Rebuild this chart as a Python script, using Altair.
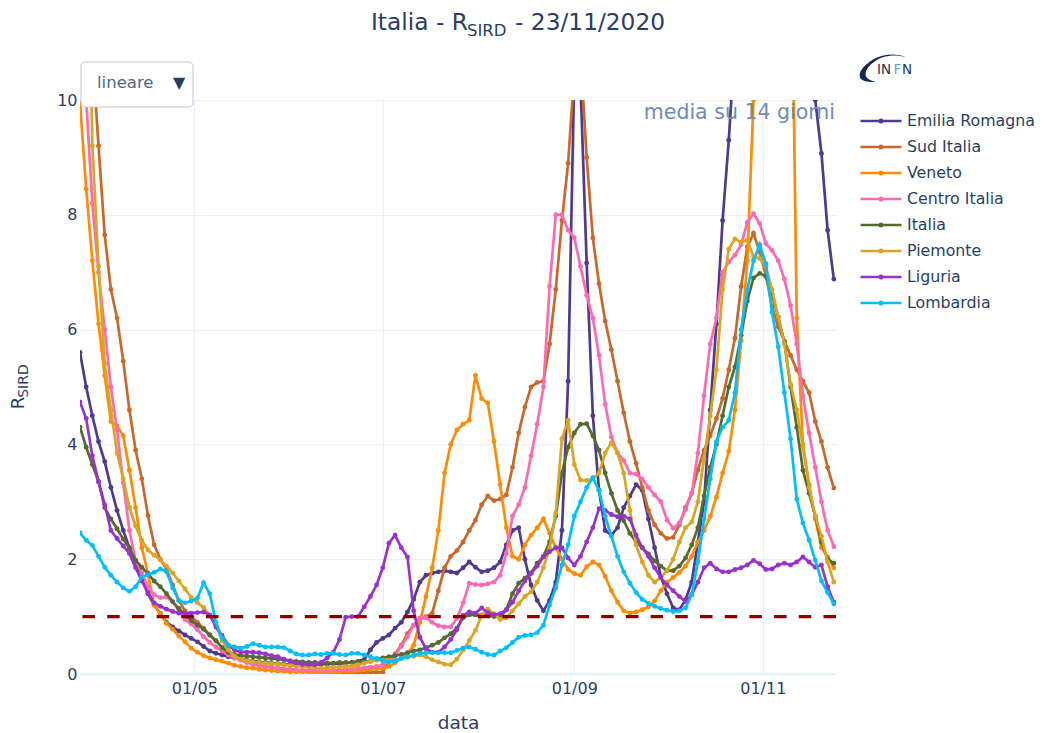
import altair as alt
import pandas as pd

alt.data_transformers.disable_max_rows()

DATES = pd.date_range("2020-03-25", "2020-11-24", freq="2D").strftime("%Y-%m-%d").tolist()

emilia = [
5.6,5.0,4.5,4.05,3.7,3.25,2.85,2.5,2.2,1.95,
1.65,1.4,1.2,1.05,0.9,0.82,0.75,0.68,0.62,0.56,
0.48,0.4,0.36,0.33,0.3,0.28,0.26,0.24,0.22,0.21,
0.2,0.19,0.18,0.17,0.17,0.16,0.16,0.16,0.16,0.17,
0.17,0.18,0.18,0.19,0.2,0.22,0.25,0.42,0.55,0.62,
0.68,0.8,0.9,1.08,1.3,1.6,1.72,1.76,1.78,1.8,
1.78,1.76,1.85,1.95,1.86,1.78,1.8,1.85,1.95,2.25,
2.5,2.55,2.0,1.55,1.28,1.1,1.28,1.6,2.5,5.1,
10.5,10.3,7.16,4.5,3.2,2.5,2.42,2.55,2.9,3.1,
3.3,3.2,2.7,2.2,1.7,1.4,1.15,1.12,1.29,1.6,
2.3,3.0,4.6,6.1,7.9,9.3,11,13,14,15,
15,15,15,15,15,15,15,14,11.5,10.0,
9.07,7.73,6.88]

sud = [
16,13.5,10.8,9.2,7.65,6.7,6.2,5.45,4.6,3.9,
3.4,2.76,2.25,2.0,1.83,1.55,1.28,1.1,1.0,0.9,
0.8,0.68,0.58,0.46,0.38,0.3,0.25,0.21,0.18,0.15,
0.13,0.12,0.1,0.09,0.08,0.07,0.06,0.05,0.04,0.04,
0.03,0.03,0.03,0.03,0.03,0.03,0.03,0.03,0.03,0.03,
0.25,0.35,0.5,0.7,0.85,0.95,1.0,1.06,1.45,1.85,
2.05,2.15,2.3,2.5,2.68,2.95,3.1,3.02,3.05,3.12,
3.6,4.2,4.65,5.0,5.08,5.1,5.75,6.7,7.9,8.9,
10.5,10.8,9.0,7.6,6.8,6.15,5.65,5.1,4.55,4.05,
3.67,3.25,2.85,2.6,2.45,2.36,2.38,2.6,2.9,3.15,
3.55,3.9,4.15,4.45,4.8,5.3,5.85,6.75,7.44,7.68,
7.35,6.95,6.4,6.05,5.8,5.55,5.3,5.1,4.9,4.4,
4.05,3.6,3.24]

veneto = [
9.95,8.45,7.2,6.1,5.2,4.4,4.32,4.15,3.55,2.9,
2.2,1.75,1.2,1.05,0.88,0.78,0.66,0.56,0.45,0.38,
0.32,0.28,0.25,0.22,0.19,0.15,0.13,0.11,0.1,0.08,
0.07,0.06,0.05,0.05,0.04,0.04,0.04,0.03,0.03,0.03,
0.03,0.03,0.04,0.05,0.05,0.06,0.07,0.08,0.09,0.1,
0.13,0.2,0.28,0.35,0.5,0.9,1.35,1.85,2.5,3.5,
4.0,4.25,4.35,4.42,5.2,4.8,4.72,4.05,3.3,2.55,
2.05,2.0,2.25,2.42,2.55,2.7,2.45,2.2,2.0,1.82,
1.75,1.72,1.87,1.95,1.9,1.7,1.45,1.25,1.1,1.06,
1.08,1.12,1.17,1.27,1.45,1.6,1.68,1.77,1.88,2.05,
2.3,2.5,2.75,3.08,3.5,3.88,4.6,5.8,7.2,10,
14,18,20,20,20,14,6.2,4.0,3.3,2.7,
2.2,2.04,1.85]

centro = [
15,10,8.2,7.0,6.0,5.0,4.25,3.33,2.5,1.98,
1.76,1.52,1.38,1.33,1.34,1.26,1.1,0.95,0.87,0.77,
0.65,0.55,0.47,0.4,0.33,0.28,0.24,0.2,0.17,0.15,
0.13,0.12,0.1,0.09,0.08,0.07,0.07,0.07,0.06,0.06,
0.06,0.07,0.07,0.08,0.09,0.1,0.11,0.12,0.13,0.16,
0.22,0.33,0.48,0.65,0.85,0.97,0.98,0.9,0.84,0.82,
0.82,0.97,1.24,1.58,1.56,1.55,1.57,1.6,1.72,2.1,
2.75,2.95,3.25,3.8,4.35,5.0,6.75,8.0,8.0,7.73,
7.6,7.1,6.6,6.2,5.55,4.7,4.13,3.85,3.72,3.5,
3.48,3.4,3.25,3.12,3.0,2.68,2.54,2.63,2.87,3.15,
3.85,4.85,5.75,6.2,7.0,7.18,7.3,7.48,7.87,8.02,
7.85,7.5,7.38,7.2,6.88,6.42,5.75,4.85,4.2,3.6,
3.0,2.5,2.22]

italia = [
4.3,3.95,3.65,3.35,2.9,2.7,2.53,2.35,2.19,1.98,
1.86,1.75,1.62,1.52,1.4,1.26,1.14,1.03,0.93,0.85,
0.78,0.68,0.58,0.46,0.38,0.34,0.32,0.31,0.3,0.29,
0.28,0.27,0.26,0.25,0.23,0.22,0.21,0.2,0.2,0.19,
0.19,0.19,0.2,0.2,0.2,0.21,0.21,0.22,0.25,0.28,
0.3,0.32,0.34,0.37,0.4,0.42,0.46,0.5,0.55,0.63,
0.7,0.8,0.98,1.03,1.03,1.03,1.02,1.0,0.99,1.12,
1.4,1.58,1.67,1.76,1.93,2.05,2.3,2.75,3.5,3.95,
4.2,4.35,4.36,4.15,3.9,3.5,3.15,2.85,2.67,2.45,
2.3,2.2,2.09,1.97,1.88,1.8,1.8,1.88,2.02,2.25,
2.55,3.1,3.6,4.0,4.5,5.0,5.35,5.9,6.5,6.9,
6.98,6.93,6.62,6.22,5.78,5.0,4.3,3.55,3.15,2.75,
2.3,2.0,1.93]

piemonte = [
18,15,9.2,7.1,5.4,4.6,3.85,3.4,2.9,2.58,
2.33,2.16,2.07,1.99,1.88,1.76,1.62,1.48,1.33,1.24,
1.16,1.02,0.85,0.58,0.42,0.31,0.26,0.23,0.21,0.2,
0.19,0.18,0.17,0.16,0.15,0.14,0.13,0.12,0.11,0.1,
0.11,0.12,0.12,0.13,0.14,0.16,0.19,0.22,0.24,0.24,
0.24,0.24,0.27,0.29,0.31,0.33,0.3,0.25,0.21,0.17,
0.16,0.26,0.42,0.58,0.76,1.02,1.13,1.05,0.95,0.98,
1.1,1.22,1.35,1.43,1.6,1.85,2.2,2.8,4.1,4.42,
3.65,3.38,3.37,3.4,3.5,3.85,4.03,3.85,3.5,2.85,
2.25,1.95,1.72,1.6,1.68,1.8,2.0,2.3,2.55,2.65,
3.0,3.75,4.5,5.3,6.7,7.4,7.58,7.52,7.56,7.27,
7.24,7.1,6.7,6.22,5.75,5.05,4.6,3.95,3.25,2.75,
2.4,1.95,1.6]

liguria = [
4.74,4.45,3.8,3.35,2.95,2.5,2.36,2.23,2.1,1.85,
1.62,1.42,1.24,1.18,1.13,1.09,1.06,1.06,1.06,1.07,
1.08,1.03,0.82,0.67,0.5,0.42,0.38,0.38,0.38,0.37,
0.35,0.32,0.3,0.26,0.22,0.19,0.17,0.17,0.16,0.2,
0.28,0.38,0.6,0.99,1.0,1.0,1.17,1.35,1.55,1.85,
2.28,2.42,2.2,2.04,1.1,0.64,0.44,0.38,0.38,0.47,
0.6,0.77,1.02,1.08,1.06,1.15,1.07,1.03,1.05,1.12,
1.25,1.45,1.62,1.75,1.88,2.04,2.13,2.2,2.2,2.02,
1.9,2.05,2.3,2.55,2.88,2.85,2.78,2.74,2.75,2.7,
2.42,2.2,2.05,1.85,1.68,1.55,1.45,1.35,1.26,1.38,
1.6,1.85,1.93,1.83,1.78,1.78,1.82,1.85,1.9,1.98,
1.92,1.82,1.83,1.9,1.93,1.9,1.95,2.04,1.95,1.86,
1.9,1.52,1.25]

lombardia = [
2.46,2.33,2.24,2.05,1.86,1.72,1.6,1.5,1.44,1.52,
1.69,1.73,1.77,1.83,1.78,1.5,1.28,1.24,1.27,1.32,
1.59,1.4,0.9,0.62,0.5,0.47,0.45,0.48,0.53,0.5,
0.47,0.47,0.47,0.46,0.4,0.35,0.33,0.33,0.35,0.34,
0.36,0.36,0.34,0.33,0.36,0.36,0.33,0.3,0.27,0.23,
0.21,0.23,0.27,0.3,0.33,0.36,0.37,0.37,0.37,0.37,
0.37,0.41,0.45,0.47,0.43,0.38,0.34,0.33,0.4,0.46,
0.55,0.64,0.67,0.68,0.72,0.85,1.2,1.5,1.9,2.25,
2.75,3.0,3.25,3.42,3.2,2.75,2.4,2.05,1.78,1.58,
1.42,1.3,1.23,1.18,1.14,1.11,1.09,1.1,1.15,1.38,
1.95,2.7,3.4,4.05,4.3,4.42,4.9,6.0,6.69,7.2,
7.48,7.15,6.3,5.7,4.9,4.1,3.05,2.63,2.33,1.98,
1.62,1.42,1.22]

NAMES = ["Emilia Romagna", "Sud Italia", "Veneto", "Centro Italia",
         "Italia", "Piemonte", "Liguria", "Lombardia"]
SERIES = [emilia, sud, veneto, centro, italia, piemonte, liguria, lombardia]
COLORS = ["#4f3a8f", "#c9682b", "#ff8c00", "#ff69b4",
          "#556b2f", "#daa520", "#9932cc", "#00bfff"]

TEXT = "#2a3f5f"
GRID = "#ebf0f8"
YTICKS = [0, 2, 4, 6, 8, 10]
XTICKS = ["2020-05-01", "2020-07-01", "2020-09-01", "2020-11-01"]
THRESHOLD = [1]


def ms(s):
    return int(pd.Timestamp(s, tz="UTC").timestamp() * 1000)


XDOM = [ms("2020-03-25"), ms("2020-11-24T17:00:00")]
x_scale = alt.Scale(type="utc", domain=XDOM)
y_scale = alt.Scale(domain=[0, 10], nice=False)
color_scale = alt.Scale(domain=NAMES, range=COLORS)

legend_symbol = ("M-2.05,0H2.05M0.13,0A0.13,0.13 0 1,1 -0.13,0"
                 "A0.13,0.13 0 1,1 0.13,0")

layers = []

# empty base carrying the axes
base_df = pd.DataFrame({"date": [DATES[0]], "v": [0]})
layers.append(
    alt.Chart(base_df).mark_point(opacity=0).encode(
        x=alt.X("date:T", scale=x_scale, title="data",
                axis=alt.Axis(values=[ms(d) for d in XTICKS], format="%d/%m",
                              domain=False, ticks=False, grid=True,
                              gridColor=GRID, gridWidth=1.2,
                              labelColor=TEXT, labelFontSize=16,
                              labelPadding=6, labelFont="DejaVu Sans",
                              titleColor=TEXT, titleFontSize=18.5,
                              titleFontWeight="normal", titleFont="DejaVu Sans",
                              titlePadding=17)),
        y=alt.Y("v:Q", scale=y_scale, title=None,
                axis=alt.Axis(values=YTICKS, format="d", domain=False, ticks=False,
                              grid=True, gridColor=GRID, gridWidth=1.2,
                              labelColor=TEXT, labelFontSize=16, labelPadding=3,
                              labelFont="DejaVu Sans")),
    )
)

# zero line
layers.append(
    alt.Chart(pd.DataFrame({"v": [0]})).mark_rule(color=GRID, strokeWidth=2.5).encode(
        y=alt.Y("v:Q", scale=y_scale))
)

for name, values in zip(NAMES, SERIES):
    assert len(values) == len(DATES), name
    df = pd.DataFrame({"date": DATES, "R": values, "regione": name})
    layers.append(
        alt.Chart(df).mark_line(
            clip=True, strokeWidth=2.7,
            point=alt.OverlayMarkDef(filled=True, size=24, clip=True, opacity=1),
        ).encode(
            x=alt.X("date:T", scale=x_scale),
            y=alt.Y("R:Q", scale=y_scale),
            color=alt.Color(
                "regione:N", scale=color_scale, sort=NAMES,
                legend=alt.Legend(
                    title=None, orient="none", legendX=789.5, legendY=9.5,
                    padding=0, symbolType=legend_symbol, symbolSize=400,
                    symbolStrokeWidth=2.4, symbolOpacity=1, rowPadding=6,
                    labelOffset=14.5, labelFontSize=15.8, labelColor=TEXT,
                    labelFont="DejaVu Sans", labelLimit=200),
            ),
        )
    )

# threshold line
layers.append(
    alt.Chart(pd.DataFrame({"v": THRESHOLD})).mark_rule(
        color="#8b0000", strokeWidth=3.4, strokeDash=[12.5, 12.2]
    ).encode(y=alt.Y("v:Q", scale=y_scale))
)


def label(text, x, y, size, color=TEXT, align="left", angle=0, weight="normal", opacity=1):
    return alt.Chart(pd.DataFrame({"t": [text]})).mark_text(
        align=align, baseline="middle", fontSize=size, color=color, angle=angle,
        font="DejaVu Sans", fontWeight=weight, opacity=opacity,
    ).encode(x=alt.value(x), y=alt.value(y), text="t:N")


OX, OY = 80, 100  # plot origin on the page, used for annotation placement

# title
layers += [
    label("Italia - R", 371 - OX, 23 - OY, 23.3),
    label("SIRD", 467 - OX, 31 - OY, 16.5),
    label("- 23/11/2020", 515 - OX, 23 - OY, 23.3),
]
# y title
layers += [
    label("R", 18.5 - OX, 403 - OY, 18, angle=270, align="center"),
    label("SIRD", 24 - OX, 381 - OY, 14, angle=270, align="center"),
]
# annotation
layers.append(label("media su 14 giorni", 835 - OX, 113 - OY, 20.5,
                    color="#6f8db5", align="right"))

# dropdown
layers.append(
    alt.Chart(pd.DataFrame({"a": [0]})).mark_rect(
        fill="white", stroke="#bec8d9", strokeWidth=1, cornerRadius=4
    ).encode(x=alt.value(81 - OX), x2=alt.value(193 - OX),
             y=alt.value(62 - OY), y2=alt.value(107 - OY))
)
layers += [
    label("lineare", 97 - OX, 83 - OY, 16.5, color="#506784"),
    label("▼", 173 - OX, 83 - OY, 16),
]

# logo
swoosh = ("M1.7,-1.0 C1.1,-1.35 -0.1,-1.3 -0.9,-0.8 C-1.6,-0.35 -2.0,0.15 -1.9,0.55 "
          "C-1.8,0.9 -1.1,1.0 -0.6,0.9 C-1.1,0.85 -1.5,0.65 -1.45,0.25 "
          "C-1.4,-0.2 -0.8,-0.75 -0.1,-1.0 C0.5,-1.2 1.2,-1.2 1.7,-1.0 Z")
layers.append(
    alt.Chart(pd.DataFrame({"a": [0]})).mark_point(
        shape=swoosh, filled=True, fill="#13294b", size=645, opacity=1
    ).encode(x=alt.value(884 - OX), y=alt.value(70 - OY))
)
layers += [
    label("IN", 877 - OX, 70 - OY, 13.5, color="#1d3557"),
    label("F", 893.5 - OX, 70 - OY, 13.5, color="#5fa8c9"),
    label("N", 902 - OX, 70 - OY, 13.5, color="#1d3557"),
]

chart = alt.layer(*layers).resolve_scale(color="shared").properties(
    width=756, height=574,
    autosize="none",
    padding={"left": 72, "top": 92, "right": 200, "bottom": 58},
    background="white",
).configure_view(stroke=None)

chart.save("out.html", embed_options={"renderer": "svg", "actions": False})
